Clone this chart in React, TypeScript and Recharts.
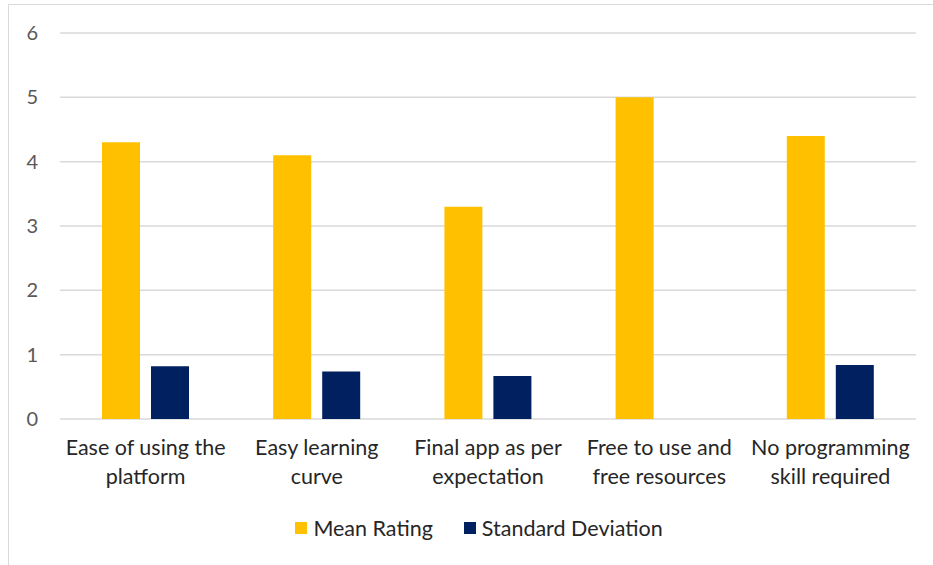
import React from "react";
import {
  BarChart,
  Bar,
  XAxis,
  YAxis,
  CartesianGrid,
  Legend,
} from "recharts";

const categories = [
  "Ease of using the\nplatform",
  "Easy learning\ncurve",
  "Final app as per\nexpectation",
  "Free to use and\nfree resources",
  "No programming\nskill required",
];
const meanRating = [4.3, 4.1, 3.3, 5.0, 4.4];
const stdDeviation = [0.82, 0.74, 0.67, 0, 0.84];
const yTicks = [0, 1, 2, 3, 4, 5, 6];

const seriesNames = ["Mean Rating", "Standard Deviation"];
const seriesColors = ["#FFC000", "#002060"];

const data = categories.map((c, i) => ({
  name: c,
  mean: meanRating[i],
  sd: stdDeviation[i],
}));

const FONT = "Lato, 'Open Sans', sans-serif";

const CategoryTick = (props: any) => {
  const { x, y, payload } = props;
  const lines = String(payload.value).split("\n");
  return (
    <g transform={`translate(${x},${y})`}>
      {lines.map((l, i) => (
        <text
          key={i}
          x={0}
          y={i * 29}
          dy={28}
          textAnchor="middle"
          fill="#262626"
          fontSize={21.5}
          fontFamily={FONT}
        >
          {l}
        </text>
      ))}
    </g>
  );
};

const LegendContent = () => (
  <div
    style={{
      display: "flex",
      justifyContent: "center",
      alignItems: "center",
      fontFamily: FONT,
      fontSize: 21.5,
      color: "#262626",
      paddingLeft: 34,
    }}
  >
    {seriesNames.map((n, i) => (
      <div
        key={n}
        style={{ display: "flex", alignItems: "center", marginRight: i === 0 ? 31 : 0 }}
      >
        <span
          style={{
            display: "inline-block",
            width: 12,
            height: 12,
            background: seriesColors[i],
            marginRight: 6,
          }}
        />
        <span>{n}</span>
      </div>
    ))}
  </div>
);

export default function App() {
  return (
    <div
      style={{
        position: "absolute",
        left: 0,
        top: 0,
        width: 933,
        height: 565,
        background: "#fff",
        overflow: "hidden",
      }}
    >
      <div
        style={{
          position: "absolute",
          left: 8,
          top: 4,
          width: 940,
          height: 580,
          borderTop: "1.5px solid #d9d9d9",
          borderLeft: "1.5px solid #d9d9d9",
        }}
      />
      <div style={{ position: "absolute", left: 0, top: 0 }}>
        <BarChart
          width={933}
          height={565}
          data={data}
          margin={{ top: 33, right: 17, bottom: 0, left: 8 }}
          barGap={11}
          barSize={38}
        >
          <CartesianGrid vertical={false} stroke="#d9d9d9" strokeWidth={1.5} />
          <XAxis
            dataKey="name"
            axisLine={false}
            tickLine={false}
            interval={0}
            height={120}
            tick={<CategoryTick />}
          />
          <YAxis
            width={52}
            domain={[0, 6]}
            ticks={yTicks}
            axisLine={false}
            tickLine={false}
            tickMargin={16}
            tick={{ fill: "#595959", fontSize: 20, fontFamily: FONT }}
          />
          <Legend
            verticalAlign="bottom"
            wrapperStyle={{ top: 515 }}
            content={<LegendContent />}
          />
          <Bar
            dataKey="mean"
            name={seriesNames[0]}
            fill={seriesColors[0]}
            isAnimationActive={false}
          />
          <Bar
            dataKey="sd"
            name={seriesNames[1]}
            fill={seriesColors[1]}
            isAnimationActive={false}
          />
        </BarChart>
      </div>
    </div>
  );
}
